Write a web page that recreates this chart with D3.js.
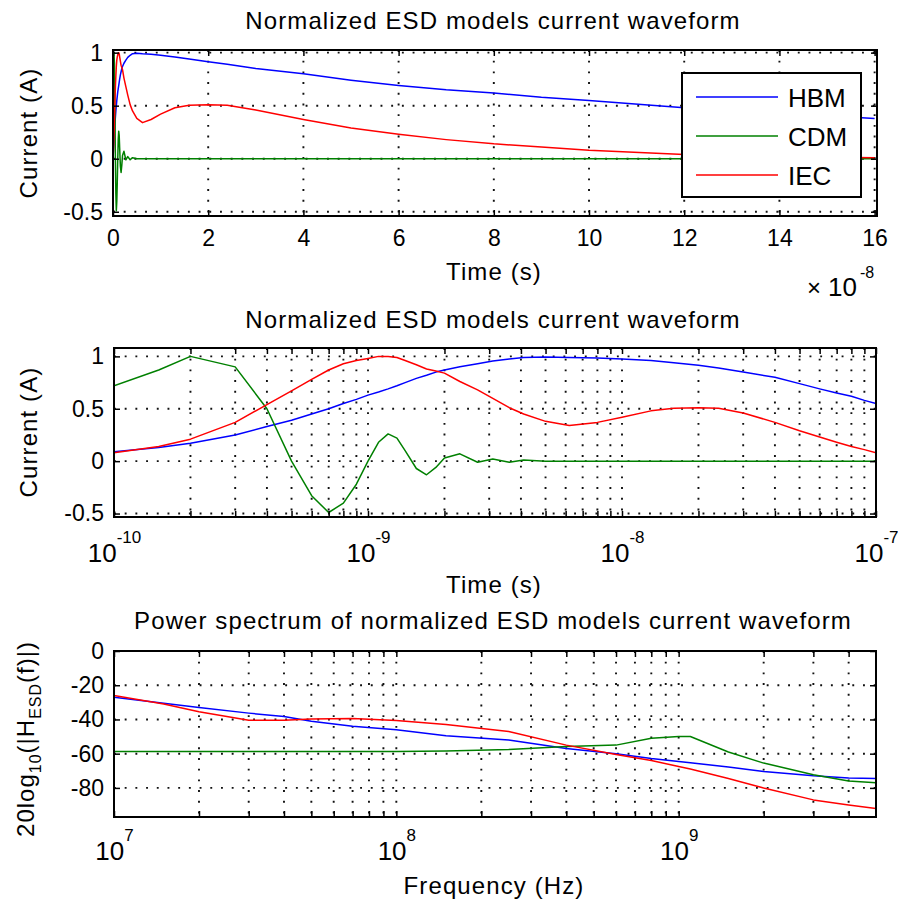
<!DOCTYPE html>
<html>
<head>
<meta charset="utf-8">
<script src="https://cdn.jsdelivr.net/npm/d3@7"></script>
<style>
  body { margin: 0; background: #fff; }
  svg text { font-family: "Liberation Sans", Arial, Helvetica, sans-serif; fill: #000; }
</style>
</head>
<body>
<div id="chart"></div>
<script>
// time samples (s), shared by the two time-domain panels
const time = [0, 1e-10, 1.5e-10, 2e-10, 3e-10, 4e-10, 5e-10, 6e-10, 7e-10, 8e-10, 9e-10,
  1e-9, 1.1e-9, 1.2e-9, 1.3e-9, 1.4e-9, 1.55e-9, 1.7e-9, 1.85e-9, 2e-9, 2.3e-9, 2.7e-9,
  3.1e-9, 3.6e-9, 4.1e-9, 5e-9, 6.2e-9, 8e-9, 1e-8, 1.3e-8, 1.6e-8, 2e-8, 2.4e-8, 3e-8,
  4e-8, 5e-8, 6e-8, 7e-8, 8e-8, 9e-8, 1e-7, 1.2e-7, 1.4e-7, 1.6e-7];

const hbm = [0, 0.09, 0.13, 0.17, 0.25, 0.33, 0.39, 0.45, 0.50, 0.55, 0.59,
  0.63, 0.66, 0.69, 0.72, 0.75, 0.79, 0.82, 0.85, 0.87, 0.90, 0.93,
  0.955, 0.975, 0.99, 0.995, 0.99, 0.985, 0.975, 0.96, 0.94, 0.915, 0.89, 0.85,
  0.80, 0.74, 0.69, 0.65, 0.62, 0.58, 0.55, 0.48, 0.43, 0.38];

const cdm = [0, 0.72, 0.87, 1.0, 0.90, 0.50, 0.0, -0.33, -0.49, -0.40, -0.22,
  0.0, 0.18, 0.26, 0.22, 0.10, -0.07, -0.13, -0.06, 0.03, 0.07, -0.01,
  0.02, -0.01, 0.01, 0, 0, 0, 0, 0, 0, 0, 0, 0,
  0, 0, 0, 0, 0, 0, 0, 0, 0, 0];

const iec = [0, 0.08, 0.14, 0.21, 0.37, 0.54, 0.67, 0.78, 0.87, 0.93, 0.96,
  0.98, 1.0, 1.0, 0.99, 0.96, 0.92, 0.88, 0.86, 0.84, 0.76, 0.68,
  0.60, 0.51, 0.45, 0.38, 0.34, 0.37, 0.42, 0.48, 0.505, 0.51, 0.505, 0.46,
  0.37, 0.29, 0.23, 0.18, 0.14, 0.11, 0.08, 0.04, 0.02, 0.01];

// power spectrum (Hz, dB)
const freq = [1e7, 1.5e7, 2e7, 3e7, 4e7, 5e7, 7e7, 1e8, 1.5e8, 2.5e8, 4e8, 6e8, 8e8,
  1e9, 1.1e9, 1.5e9, 2e9, 3e9, 4e9, 5e9];
const hbmDb = [-27, -30.5, -33, -36.3, -38.3, -41, -44, -46, -49.5, -52, -57, -60, -62.8,
  -64.5, -65.3, -67.8, -70.4, -72.9, -74.2, -74.5];
const cdmDb = [-58.7, -58.7, -58.7, -58.7, -58.7, -58.7, -58.7, -58.7, -58.5, -57.5, -55.8, -55, -51,
  -50, -50, -59, -65.5, -72.3, -76, -77];
const iecDb = [-26, -31, -35.5, -40.5, -40.5, -39.8, -39.5, -40.6, -43, -47, -55, -60.5, -64,
  -67.5, -69, -74.5, -80, -87, -90, -92];

const seriesNames = ["HBM", "CDM", "IEC"];
const seriesColors = ["#0000ff", "#008000", "#ff0000"];

const linTimeTicks = [0, 2e-8, 4e-8, 6e-8, 8e-8, 10e-8, 12e-8, 14e-8, 16e-8];
const logTimeTicks = [1e-10, 1e-9, 1e-8, 1e-7];
const freqTicks = [1e7, 1e8, 1e9];
const currentTicks = [-0.5, 0, 0.5, 1];
const dbTicks = [-80, -60, -40, -20, 0];

const W = 898, H = 902;
const svg = d3.select("#chart").append("svg").attr("width", W).attr("height", H);
const defs = svg.append("defs");

// minor ticks 2..9 x decade inside a log domain
function logMinor(scale) {
  const [a, b] = scale.domain();
  const out = [];
  for (let e = Math.floor(Math.log10(a)); e <= Math.ceil(Math.log10(b)); e++) {
    for (let k = 2; k <= 9; k++) {
      const v = k * Math.pow(10, e);
      if (v > a && v < b) out.push(v);
    }
  }
  return out;
}

function styleAxis(g) {
  g.select(".domain").remove();
  g.selectAll("line").attr("stroke", "#000").attr("stroke-width", 1.5);
  g.attr("font-size", 23).attr("font-family", null);
}

function drawPanel(o) {
  const g = svg.append("g");
  const [xl, xr] = o.x.range();
  const [yb, yt] = o.y.range();
  const id = "clip" + o.id;
  defs.append("clipPath").attr("id", id)
    .append("rect").attr("x", xl).attr("y", yt).attr("width", xr - xl).attr("height", yb - yt);

  // dotted grid
  const grid = g.append("g").attr("stroke", "#111").attr("stroke-width", 1.9)
    .attr("stroke-dasharray", "1.9,8.8");
  grid.selectAll("line.vx").data(o.xGrid).join("line").attr("class", "vx")
    .attr("x1", d => o.x(d)).attr("x2", d => o.x(d)).attr("y1", yt).attr("y2", yb);
  grid.selectAll("line.hy").data(o.yTicks).join("line").attr("class", "hy")
    .attr("x1", xl).attr("x2", xr).attr("y1", d => o.y(d)).attr("y2", d => o.y(d));

  // curves
  const line = d3.line().x(d => o.x(d[0])).y(d => o.y(d[1]));
  o.series.forEach((s, i) => {
    const pts = o.xs.map((v, k) => [v, s[k]]).filter(d => o.keep(d[0]));
    g.append("path").attr("clip-path", `url(#${id})`).attr("d", line(pts))
      .attr("fill", "none").attr("stroke", seriesColors[i]).attr("stroke-width", 1.5)
      .attr("stroke-linejoin", "round");
  });

  // inward ticks on all four sides
  const minor = o.xMinor || [];
  const bottom = g.append("g").attr("transform", `translate(0,${yb})`)
    .call(d3.axisBottom(o.x).tickValues(o.xTicks).tickSize(-6).tickPadding(14)
      .tickFormat(o.xFormat || (() => "")))
    .call(styleAxis);
  g.append("g").attr("transform", `translate(0,${yb})`)
    .call(d3.axisBottom(o.x).tickValues(minor).tickSize(-6).tickFormat(() => ""))
    .call(styleAxis);
  g.append("g").attr("transform", `translate(0,${yt})`)
    .call(d3.axisTop(o.x).tickValues(o.xTicks.concat(minor)).tickSize(-6).tickFormat(() => ""))
    .call(styleAxis);
  g.append("g").attr("transform", `translate(${xl},0)`)
    .call(d3.axisLeft(o.y).tickValues(o.yTicks).tickSize(-6).tickPadding(10)
      .tickFormat(d => String(d)))
    .call(styleAxis);
  g.append("g").attr("transform", `translate(${xr},0)`)
    .call(d3.axisRight(o.y).tickValues(o.yTicks).tickSize(-6).tickFormat(() => ""))
    .call(styleAxis);

  // power-of-ten labels
  if (o.logLabels) {
    bottom.selectAll(".tick").append("text")
      .attr("y", o.logLabels).attr("text-anchor", "middle").attr("dy", null)
      .each(function (d) {
        const t = d3.select(this);
        t.append("tspan").attr("font-size", 26).text("10");
        t.append("tspan").attr("font-size", 17).attr("dy", -19).text(Math.round(Math.log10(d)));
      });
  }

  // border
  g.append("rect").attr("x", xl).attr("y", yt).attr("width", xr - xl).attr("height", yb - yt)
    .attr("fill", "none").attr("stroke", "#000").attr("stroke-width", 2);
  return g;
}

function label(txt, x, y, rot) {
  return svg.append("text").attr("transform", `translate(${x},${y})` + (rot ? " rotate(-90)" : ""))
    .attr("text-anchor", "middle").attr("font-size", 24).attr("letter-spacing", 1.1).text(txt);
}

// ---------- panel 1: linear time ----------
const x1 = d3.scaleLinear().domain([0, 16.05e-8]).range([113, 877]);
const y1 = d3.scaleLinear().domain([-0.54, 1.025]).range([216, 50]);
drawPanel({
  id: 1, x: x1, y: y1, xs: time, series: [hbm, cdm, iec], keep: () => true,
  xTicks: linTimeTicks, xGrid: linTimeTicks, yTicks: currentTicks,
  xFormat: d => Math.round(d / 1e-8)
});
label("Normalized ESD models current waveform", 493, 29);
label("Time (s)", 494, 280);
label("Current (A)", 37, 133, true);
const mult = svg.append("text").attr("y", 296).attr("font-size", 24);
mult.append("tspan").attr("x", 807).text("\u00d7");
mult.append("tspan").attr("x", 828).attr("font-size", 26).text("10");
mult.append("tspan").attr("x", 860).attr("font-size", 16).attr("dy", -18).text("-8");

// legend
const leg = svg.append("g");
leg.append("rect").attr("x", 682).attr("y", 73).attr("width", 179).attr("height", 124)
  .attr("fill", "#fff").attr("stroke", "#000").attr("stroke-width", 2);
seriesNames.forEach((n, i) => {
  const yy = 97 + i * 39;
  leg.append("line").attr("x1", 696).attr("x2", 778).attr("y1", yy).attr("y2", yy)
    .attr("stroke", seriesColors[i]).attr("stroke-width", 1.5);
  leg.append("text").attr("x", 788).attr("y", yy + 9.5).attr("font-size", 26).text(n);
});

// ---------- panel 2: log time ----------
const x2 = d3.scaleLog().domain([1e-10, 1e-7]).range([114, 876]);
const y2 = d3.scaleLinear().domain([-0.533, 1.08]).range([517, 348]);
drawPanel({
  id: 2, x: x2, y: y2, xs: time, series: [hbm, cdm, iec], keep: t => t > 0,
  xTicks: logTimeTicks, xMinor: logMinor(x2), xGrid: logTimeTicks.concat(logMinor(x2)),
  yTicks: currentTicks, logLabels: 45
});
label("Normalized ESD models current waveform", 493, 328);
label("Time (s)", 494, 593);
label("Current (A)", 37, 432, true);

// ---------- panel 3: spectrum ----------
const x3 = d3.scaleLog().domain([1e7, 5e9]).range([114, 876]);
const y3 = d3.scaleLinear().domain([-97, 0]).range([817, 651]);
drawPanel({
  id: 3, x: x3, y: y3, xs: freq, series: [hbmDb, cdmDb, iecDb], keep: () => true,
  xTicks: freqTicks, xMinor: logMinor(x3), xGrid: freqTicks.concat(logMinor(x3)),
  yTicks: dbTicks, logLabels: 43
});
label("Power spectrum of normalized ESD models current waveform", 493, 629);
label("Frequency (Hz)", 494, 894);
const yl = svg.append("text").attr("transform", "translate(34,739) rotate(-90)")
  .attr("text-anchor", "middle").attr("font-size", 24).attr("letter-spacing", 1);
yl.append("tspan").text("20log");
yl.append("tspan").attr("font-size", 16).attr("dy", 7).text("10");
yl.append("tspan").attr("dy", -7).text("(|H");
yl.append("tspan").attr("font-size", 16).attr("dy", 7).text("ESD");
yl.append("tspan").attr("dy", -7).text("(f)|)");
</script>
</body>
</html>
